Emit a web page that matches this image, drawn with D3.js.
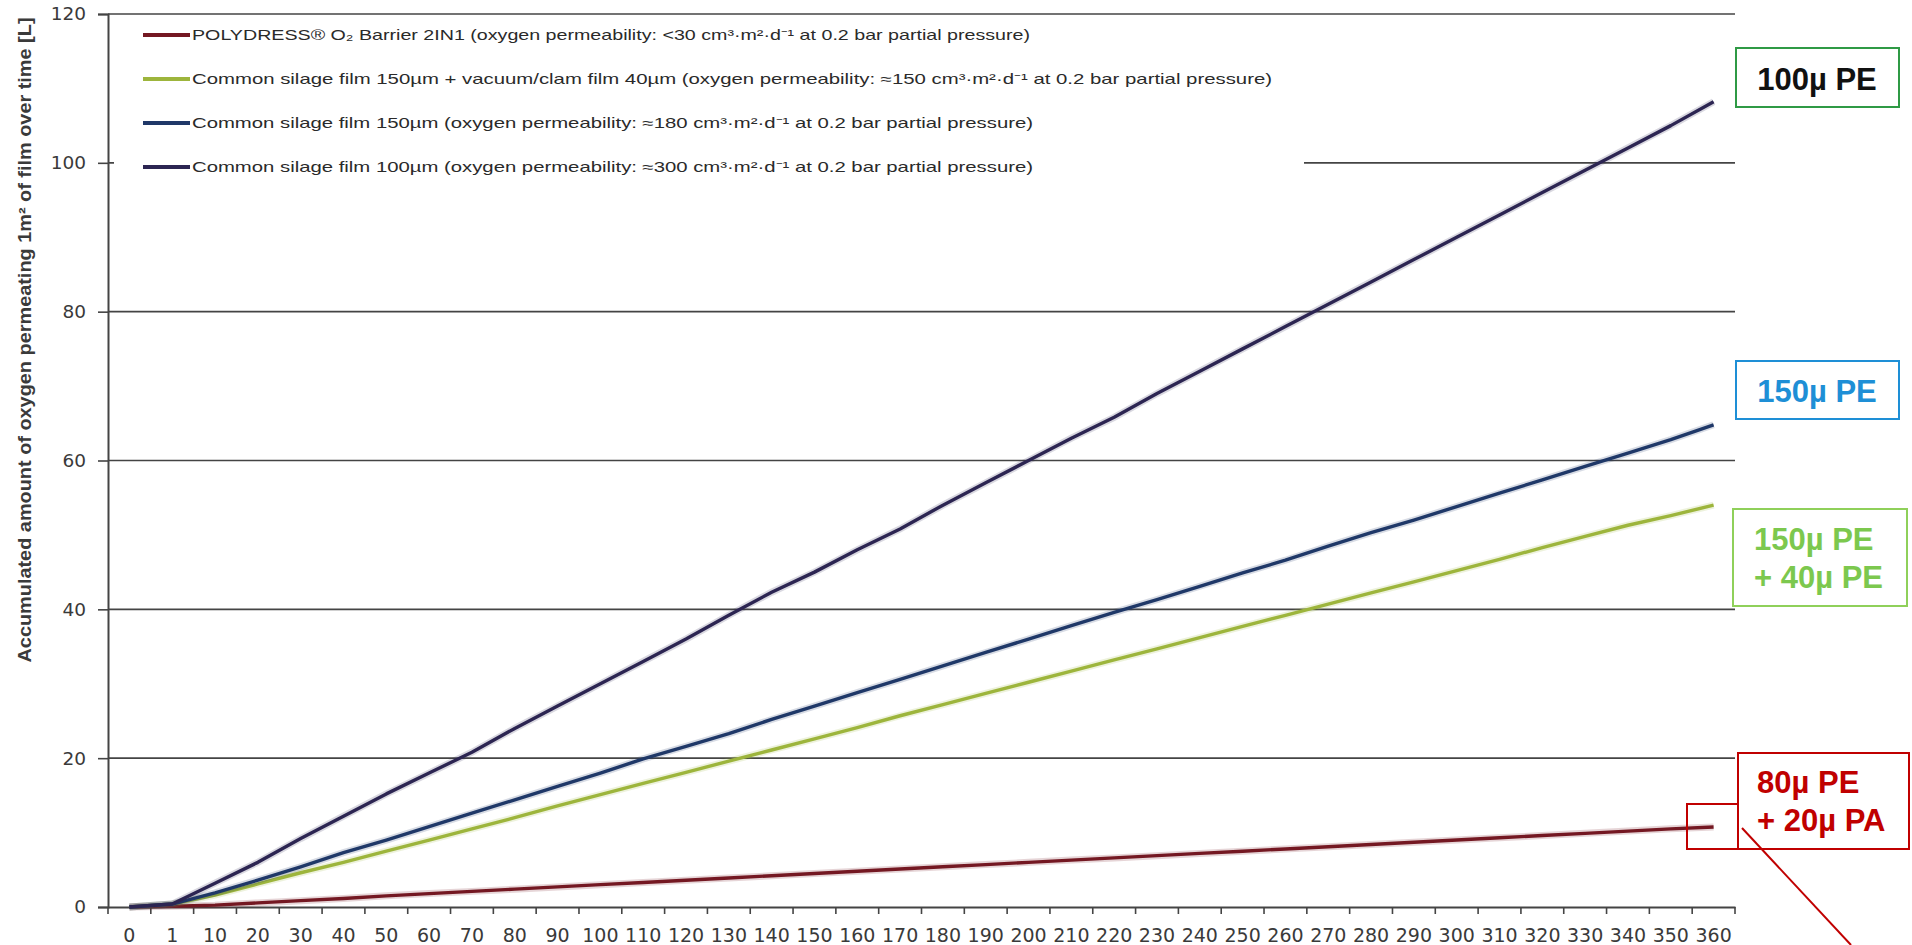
<!DOCTYPE html>
<html>
<head>
<meta charset="utf-8">
<script src="https://cdn.jsdelivr.net/npm/d3@7"></script>
<style>
  body { margin: 0; background: #fff; }
  svg { display: block; }
</style>
</head>
<body>
<svg id="chart"></svg>
<script>
// categories on the x axis (days)
const days = ["0", "1", "10", "20", "30", "40", "50", "60", "70", "80", "90", "100",
  "110", "120", "130", "140", "150", "160", "170", "180", "190", "200", "210", "220",
  "230", "240", "250", "260", "270", "280", "290", "300", "310", "320", "330", "340",
  "350", "360"];

// accumulated O2 [L] per series
const polydress = [0, 0.1, 0.25, 0.55, 0.85, 1.15, 1.5, 1.8, 2.1, 2.4, 2.7, 3.0,
  3.3, 3.6, 3.9, 4.2, 4.5, 4.8, 5.1, 5.4, 5.7, 6.0, 6.3, 6.6,
  6.9, 7.2, 7.5, 7.8, 8.1, 8.4, 8.7, 9.0, 9.3, 9.6, 9.9, 10.2,
  10.5, 10.75];
const silage150Clam = [0, 0.4, 1.6, 3.1, 4.6, 6.0, 7.5, 9.0, 10.5, 12.0, 13.6, 15.1,
  16.6, 18.1, 19.6, 21.1, 22.6, 24.1, 25.7, 27.2, 28.7, 30.2, 31.7, 33.2,
  34.7, 36.2, 37.7, 39.2, 40.7, 42.2, 43.7, 45.2, 46.7, 48.3, 49.8, 51.3,
  52.6, 54.0];
const silage150 = [0, 0.4, 1.9, 3.6, 5.4, 7.3, 9.0, 10.8, 12.6, 14.4, 16.2, 18.0,
  19.9, 21.6, 23.3, 25.2, 27.0, 28.8, 30.6, 32.4, 34.2, 36.0, 37.8, 39.6,
  41.3, 43.1, 44.9, 46.6, 48.5, 50.3, 52.0, 53.8, 55.6, 57.4, 59.2, 61.0,
  62.8, 64.8];
const silage100 = [0, 0.4, 3.2, 6.0, 9.2, 12.2, 15.2, 18.0, 20.8, 24.0, 27.0, 30.0,
  33.0, 36.0, 39.2, 42.3, 45.0, 48.0, 50.8, 54.0, 57.0, 60.0, 63.0, 65.8,
  69.0, 72.0, 75.0, 78.0, 81.0, 84.0, 87.0, 90.0, 93.0, 96.0, 99.0, 102.0,
  105.0, 108.2];

const seriesNames = [
  "POLYDRESS® O₂ Barrier 2IN1 (oxygen permeability: <30 cm³·m²·d⁻¹ at 0.2 bar partial pressure)",
  "Common silage film 150µm + vacuum/clam film 40µm (oxygen permeability: ≈150 cm³·m²·d⁻¹ at 0.2 bar partial pressure)",
  "Common silage film 150µm (oxygen permeability: ≈180 cm³·m²·d⁻¹ at 0.2 bar partial pressure)",
  "Common silage film 100µm (oxygen permeability: ≈300 cm³·m²·d⁻¹ at 0.2 bar partial pressure)"
];
const seriesValues = [polydress, silage150Clam, silage150, silage100];
const seriesColors = ["#741822", "#9db53c", "#1f3868", "#2c2552"];

const yTicks = [0, 20, 40, 60, 80, 100, 120];
const yTitle = "Accumulated amount of oxygen permeating 1m² of film over time  [L]";

const W = 1912, H = 945;
const plot = { left: 108, right: 1735, top: 14, bottom: 907 };

const svg = d3.select("#chart").attr("width", W).attr("height", H);
svg.append("rect").attr("width", W).attr("height", H).attr("fill", "#fff");

const x = d3.scaleBand().domain(days).range([plot.left, plot.right]).padding(0);
const y = d3.scaleLinear().domain([0, 120]).range([plot.bottom, plot.top]);
const cx = (d) => x(d) + x.bandwidth() / 2;

// gridlines
svg.append("g")
  .selectAll("line")
  .data(yTicks.filter((t) => t > 0))
  .enter()
  .append("line")
  .attr("x1", plot.left)
  .attr("x2", plot.right)
  .attr("y1", (d) => y(d))
  .attr("y2", (d) => y(d))
  .attr("stroke", "#444")
  .attr("stroke-width", 1.6);

// y axis
const yAxisG = svg.append("g")
  .attr("transform", `translate(${plot.left},0)`)
  .call(d3.axisLeft(y).tickValues(yTicks).tickSize(10).tickPadding(12));
yAxisG.select(".domain").attr("stroke", "#444").attr("stroke-width", 2);
yAxisG.selectAll(".tick line").attr("stroke", "#444").attr("stroke-width", 1.6);
yAxisG.selectAll(".tick text")
  .attr("font-family", "DejaVu Sans, Verdana, sans-serif")
  .attr("font-size", 18.5)
  .attr("fill", "#3a3a3a");

// x axis: labels centred in each category, ticks between categories
const xAxisG = svg.append("g")
  .attr("transform", `translate(0,${plot.bottom})`)
  .call(d3.axisBottom(x).tickSize(0).tickPadding(22));
xAxisG.select(".domain").attr("stroke", "#444").attr("stroke-width", 2);
xAxisG.selectAll(".tick text")
  .attr("font-family", "DejaVu Sans, Verdana, sans-serif")
  .attr("font-size", 19)
  .attr("fill", "#3a3a3a");
xAxisG.selectAll("line.between")
  .data(days.concat(["end"]))
  .enter()
  .append("line")
  .attr("class", "between")
  .attr("x1", (d) => (d === "end" ? plot.right : x(d)))
  .attr("x2", (d) => (d === "end" ? plot.right : x(d)))
  .attr("y1", 0)
  .attr("y2", 7)
  .attr("stroke", "#444")
  .attr("stroke-width", 1.6);

// y axis title
svg.append("text")
  .attr("transform", "translate(31,340) rotate(-90)")
  .attr("text-anchor", "middle")
  .attr("font-family", "Liberation Sans Narrow, Liberation Sans, Arial, sans-serif")
  .attr("font-weight", "bold")
  .attr("font-size", 18)
  .attr("fill", "#3a3a3a")
  .attr("textLength", 645)
  .attr("lengthAdjust", "spacingAndGlyphs")
  .text(yTitle);

// series lines
const line = d3.line()
  .x((d) => cx(d.day))
  .y((d) => y(d.v));

seriesValues.forEach((vals, i) => {
  const pts = days.map((day, j) => ({ day, v: vals[j] }));
  svg.append("path")
    .datum(pts)
    .attr("fill", "none")
    .attr("stroke", seriesColors[i])
    .attr("stroke-opacity", 0.18)
    .attr("stroke-width", 7)
    .attr("d", line);
  svg.append("path")
    .datum(pts)
    .attr("fill", "none")
    .attr("stroke", seriesColors[i])
    .attr("stroke-width", 3.4)
    .attr("stroke-linejoin", "round")
    .attr("d", line);
});

// legend
const legend = svg.append("g");
legend.append("rect")
  .attr("x", 114).attr("y", 19)
  .attr("width", 1190).attr("height", 166)
  .attr("fill", "#fff");
const legendRows = [35, 79, 123, 167];
const legendWidths = [838, 1080, 841, 841];
seriesNames.forEach((name, i) => {
  legend.append("line")
    .attr("x1", 143).attr("x2", 190)
    .attr("y1", legendRows[i]).attr("y2", legendRows[i])
    .attr("stroke", seriesColors[i])
    .attr("stroke-width", 4);
  legend.append("text")
    .attr("x", 192)
    .attr("y", legendRows[i] + 5)
    .attr("font-family", "Liberation Sans, Arial, sans-serif")
    .attr("font-size", 14.5)
    .attr("fill", "#2a2a2a")
    .attr("textLength", legendWidths[i])
    .attr("lengthAdjust", "spacingAndGlyphs")
    .text(name);
});

// annotation boxes at the right
const boxFont = "Liberation Sans, Arial, sans-serif";
function box(x0, y0, w, h, color, strokeW) {
  svg.append("rect")
    .attr("x", x0).attr("y", y0)
    .attr("width", w).attr("height", h)
    .attr("fill", "none")
    .attr("stroke", color)
    .attr("stroke-width", strokeW);
}
function label(lines, x0, y0, color, anchor) {
  lines.forEach((t, i) => {
    svg.append("text")
      .attr("x", x0)
      .attr("y", y0 + i * 38)
      .attr("text-anchor", anchor)
      .attr("font-family", boxFont)
      .attr("font-weight", "bold")
      .attr("font-size", 31)
      .attr("fill", color)
      .text(t);
  });
}

box(1736, 48, 163, 59, "#2f9a45", 2);
label(["100µ PE"], 1817, 90, "#111", "middle");

box(1736, 361, 163, 58, "#1e8fd6", 2);
label(["150µ PE"], 1817, 402, "#1e8fd6", "middle");

box(1733, 509, 174, 97, "#8fd05a", 2);
label(["150µ PE", "+ 40µ PE"], 1754, 550, "#7cc84e", "start");

box(1738, 753, 171, 96, "#c00000", 2);
box(1687, 804, 51, 45, "#c00000", 2);
label(["80µ PE", "+ 20µ PA"], 1757, 793, "#c00000", "start");

svg.append("line")
  .attr("x1", 1742).attr("y1", 828)
  .attr("x2", 1851).attr("y2", 945)
  .attr("stroke", "#c00000")
  .attr("stroke-width", 2);
</script>
</body>
</html>
